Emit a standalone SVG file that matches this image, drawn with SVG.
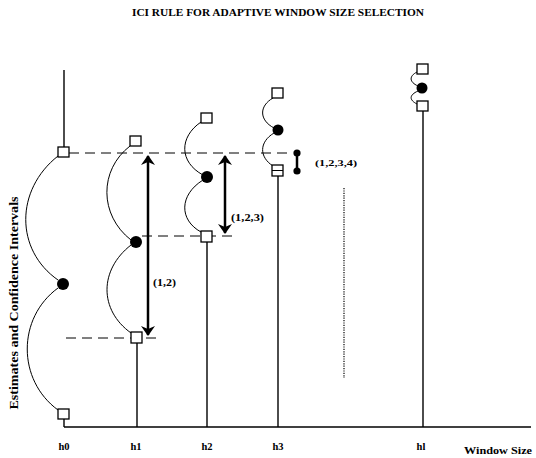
<svg xmlns="http://www.w3.org/2000/svg" width="536" height="458" viewBox="0 0 536 458">
  <defs>
    <marker id="head" viewBox="0 0 10 14" refX="9" refY="7" markerWidth="10" markerHeight="14" markerUnits="userSpaceOnUse" orient="auto-start-reverse">
      <path d="M0,0 L10,7 L0,14 L3,7 Z" fill="#000"/>
    </marker>
  </defs>
  <style>
    text { font-family: "Liberation Serif", "Times New Roman", serif; font-weight: bold; fill: #000; }
    .stem { stroke: #000; stroke-width: 1.4; fill: none; }
    .arc { stroke: #000; stroke-width: 1; fill: none; }
    .dash { stroke: #000; stroke-width: 1; stroke-dasharray: 10 6; fill: none; }
    .dots { stroke: #000; stroke-width: 1.2; stroke-dasharray: 1.2 1.2; fill: none; }
    .sq { fill: #fff; stroke: #000; stroke-width: 1.3; }
    .est { fill: #000; }
    .span { stroke: #000; stroke-width: 2.5; fill: none; marker-start: url(#head); marker-end: url(#head); }
  </style>

  <!-- title and axis labels -->
  <text x="278" y="16" font-size="11" text-anchor="middle" textLength="292" lengthAdjust="spacingAndGlyphs">ICI RULE FOR ADAPTIVE WINDOW SIZE SELECTION</text>
  <text transform="translate(18,303) rotate(-90)" font-size="11.5" text-anchor="middle" textLength="213" lengthAdjust="spacingAndGlyphs">Estimates and Confidence Intervals</text>
  <text x="464" y="454" font-size="11" textLength="68" lengthAdjust="spacingAndGlyphs">Window Size</text>

  <!-- horizontal axis -->
  <line x1="64" y1="427" x2="531" y2="427" stroke="#000" stroke-width="1.5"/>

  <!-- connectors: interval bounds, guide lines and intersection spans -->
  <g id="connectors">
    <line class="dash" x1="69" y1="153" x2="292" y2="153"/>
    <line class="dash" x1="142" y1="236" x2="232" y2="236"/>
    <line class="dash" x1="66" y1="338" x2="156" y2="338"/>
    <line class="span" x1="148" y1="156" x2="148" y2="335"/>
    <line class="span" x1="225" y1="156" x2="225" y2="233"/>
    <line stroke="#000" stroke-width="2.5" x1="297" y1="153" x2="297" y2="171"/>
    <circle class="est" cx="297" cy="153" r="3.6"/>
    <circle class="est" cx="297" cy="171" r="3.6"/>
    <line class="dots" x1="344" y1="188" x2="344" y2="378"/>
    <text x="153" y="286" font-size="10.5" textLength="23" lengthAdjust="spacingAndGlyphs">(1,2)</text>
    <text x="231" y="221" font-size="10.5" textLength="33" lengthAdjust="spacingAndGlyphs">(1,2,3)</text>
    <text x="315" y="166" font-size="9" textLength="42" lengthAdjust="spacingAndGlyphs">(1,2,3,4)</text>
  </g>

  <!-- window h0 -->
  <g id="h0">
    <line class="stem" x1="64" y1="70" x2="64" y2="147"/>
    <path class="arc" d="M58,156 C15,190 15,250 58,280"/>
    <path class="arc" d="M58,288 C17,318 17,380 58,410"/>
    <line class="stem" x1="64" y1="419" x2="64" y2="427"/>
    <rect class="sq" x="58" y="147" width="11" height="10"/>
    <circle class="est" cx="63" cy="284" r="6"/>
    <rect class="sq" x="58" y="409" width="11" height="10"/>
    <text x="64" y="450" font-size="10.5" text-anchor="middle">h0</text>
  </g>

  <!-- window h1 -->
  <g id="h1">
    <line class="stem" x1="137" y1="343" x2="137" y2="427" stroke-width="1.1"/>
    <path class="arc" d="M130,146 C99,170 99,215 131,240"/>
    <path class="arc" d="M131,245 C99,270 99,310 131,333"/>
    <rect class="sq" x="130" y="136" width="11" height="10"/>
    <circle class="est" cx="136" cy="242" r="6"/>
    <rect class="sq" x="131" y="332" width="11" height="11"/>
    <text x="136" y="450" font-size="10.5" text-anchor="middle">h1</text>
  </g>

  <!-- window h2 -->
  <g id="h2">
    <line class="stem" x1="207" y1="242" x2="207" y2="427"/>
    <path class="arc" d="M201,122 C179,137 179,162 203,175"/>
    <path class="arc" d="M203,180 C179,195 179,220 201,232"/>
    <rect class="sq" x="201" y="113" width="11" height="10"/>
    <circle class="est" cx="207" cy="177" r="6"/>
    <rect class="sq" x="201" y="231" width="11" height="11"/>
    <text x="207" y="450" font-size="10.5" text-anchor="middle">h2</text>
  </g>

  <!-- window h3 -->
  <g id="h3">
    <line class="stem" x1="278" y1="176" x2="278" y2="427"/>
    <path class="arc" d="M273,98 C259,106 259,120 274,128"/>
    <path class="arc" d="M274,133 C259,142 259,157 273,166"/>
    <rect class="sq" x="272" y="88" width="11" height="10"/>
    <circle class="est" cx="278" cy="130" r="5.5"/>
    <rect class="sq" x="272" y="165" width="11" height="11"/>
    <line x1="272" y1="170.5" x2="283" y2="170.5" stroke="#000" stroke-width="1"/>
    <text x="278" y="450" font-size="10.5" text-anchor="middle">h3</text>
  </g>

  <!-- window hl -->
  <g id="hl">
    <line class="stem" x1="423" y1="111" x2="423" y2="427" stroke-width="2"/>
    <path class="arc" d="M417,72 C409,76 409,82 418,86"/>
    <path class="arc" d="M418,91 C409,95 409,100 417,104"/>
    <rect class="sq" x="417" y="64" width="11" height="10"/>
    <circle class="est" cx="422" cy="88" r="5.5"/>
    <rect class="sq" x="417" y="101" width="11" height="10"/>
    <text x="421" y="450" font-size="10.5" text-anchor="middle">hl</text>
  </g>
</svg>
